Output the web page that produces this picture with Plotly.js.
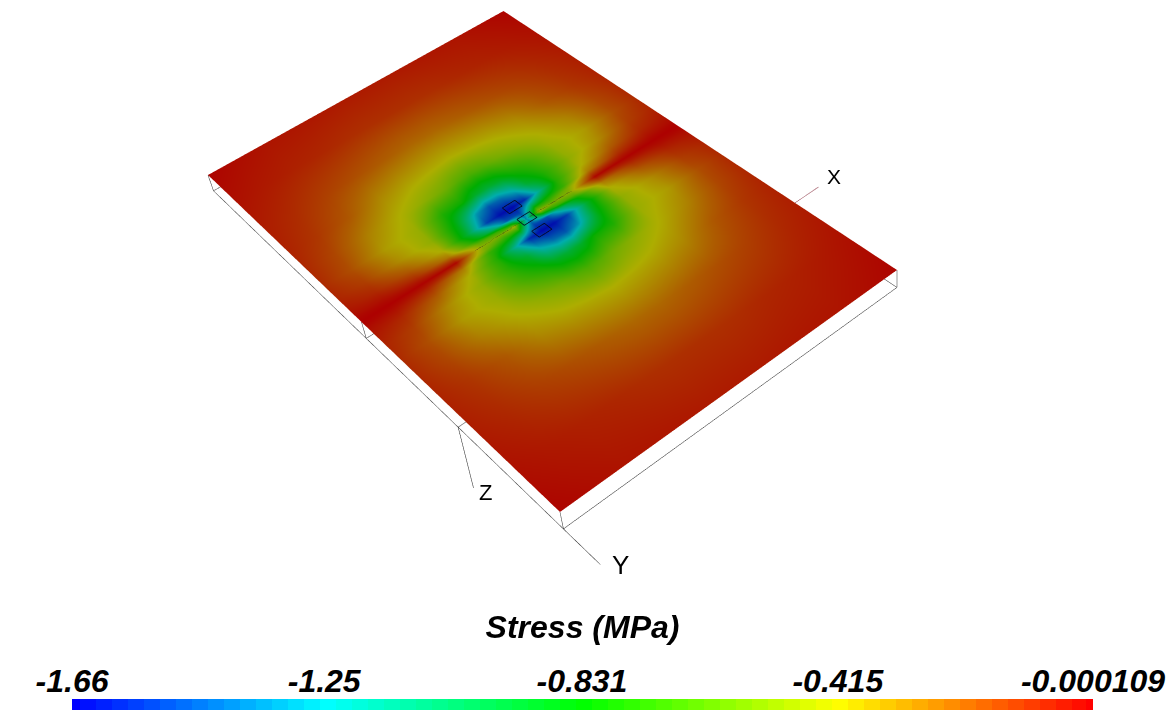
<!DOCTYPE html>
<html>
<head>
<meta charset="utf-8">
<script src="https://cdn.plot.ly/plotly-3.0.1.min.js"></script>
<style>html,body{margin:0;padding:0;background:#fff;overflow:hidden}#chart{width:1176px;height:713px}</style>
</head>
<body>
<div id="chart"></div>
<script>
// Plate position along its two edges (0..1), stress
const sPositions = [0, .08, .18, .28, .36, .42, .46, .5, .54, .58, .64, .72, .82, .92, 1];
const tPositions = [0, .1, .2, .28, .34, .39, .43, .46, .48, .49, .5, .51, .52, .54, .57, .61, .66, .72, .8, .9, 1];
const stress = [
 [-.012,-.04,-.07,-.085,-.10,-.105,-.09,-.06,-.035,-.015,-.005,-.015,-.035,-.06,-.09,-.105,-.10,-.085,-.07,-.04,-.012],
 [-.03,-.06,-.10,-.13,-.17,-.19,-.15,-.10,-.05,-.025,-.005,-.025,-.05,-.10,-.15,-.19,-.17,-.13,-.10,-.06,-.03],
 [-.05,-.08,-.15,-.21,-.31,-.37,-.33,-.22,-.12,-.06,-.01,-.06,-.12,-.22,-.33,-.37,-.31,-.21,-.15,-.08,-.05],
 [-.055,-.095,-.19,-.33,-.42,-.47,-.49,-.43,-.30,-.15,-.02,-.15,-.30,-.43,-.49,-.47,-.42,-.33,-.19,-.095,-.055],
 [-.06,-.11,-.22,-.38,-.50,-.76,-.87,-.95,-.80,-.60,-.50,-.55,-.70,-.75,-.74,-.66,-.50,-.38,-.22,-.11,-.06],
 [-.065,-.115,-.24,-.40,-.56,-.80,-1.3,-1.5,-1.1,-.70,-.55,-.70,-.85,-1.2,-.95,-.78,-.56,-.40,-.24,-.115,-.065],
 [-.065,-.115,-.25,-.41,-.62,-.92,-1.45,-1.62,-1.45,-.90,-.45,-.70,-1.0,-1.55,-1.25,-.90,-.62,-.41,-.25,-.115,-.065],
 [-.065,-.115,-.25,-.42,-.65,-.95,-1.4,-1.64,-1.5,-1.4,-1.3,-1.4,-1.5,-1.64,-1.4,-.95,-.65,-.42,-.25,-.115,-.065],
 [-.065,-.115,-.25,-.41,-.62,-.90,-1.25,-1.55,-1.0,-.70,-.45,-.90,-1.45,-1.62,-1.45,-.92,-.62,-.41,-.25,-.115,-.065],
 [-.065,-.115,-.24,-.40,-.56,-.78,-.95,-1.2,-.85,-.70,-.55,-.70,-1.1,-1.5,-1.3,-.80,-.56,-.40,-.24,-.115,-.065],
 [-.06,-.11,-.22,-.38,-.50,-.66,-.74,-.75,-.70,-.55,-.50,-.60,-.80,-.95,-.87,-.76,-.50,-.38,-.22,-.11,-.06],
 [-.055,-.095,-.19,-.33,-.42,-.47,-.49,-.43,-.30,-.15,-.02,-.15,-.30,-.43,-.49,-.47,-.42,-.33,-.19,-.095,-.055],
 [-.05,-.08,-.15,-.21,-.31,-.37,-.33,-.22,-.12,-.06,-.01,-.06,-.12,-.22,-.33,-.37,-.31,-.21,-.15,-.08,-.05],
 [-.03,-.06,-.10,-.13,-.17,-.19,-.15,-.10,-.05,-.025,-.005,-.025,-.05,-.10,-.15,-.19,-.17,-.13,-.10,-.06,-.03],
 [-.012,-.04,-.07,-.085,-.10,-.105,-.09,-.06,-.035,-.015,-.005,-.015,-.035,-.06,-.09,-.105,-.10,-.085,-.07,-.04,-.012]
];
const barLevels = [-1.66,-1.634,-1.608,-1.582,-1.556,-1.53,-1.504,-1.478,-1.452,-1.426,-1.4,-1.374,-1.348,-1.322,-1.296,-1.27,-1.244,-1.218,-1.192,-1.166,-1.14,-1.114,-1.088,-1.062,-1.036,-1.01,-.984,-.958,-.932,-.906,-.88,-.854,-.828,-.802,-.776,-.75,-.724,-.698,-.672,-.646,-.62,-.594,-.568,-.542,-.516,-.49,-.464,-.438,-.412,-.386,-.36,-.334,-.308,-.282,-.256,-.23,-.204,-.178,-.152,-.126,-.1,-.074,-.048,-.022,-.002];
const tickValues = [-1.66, -1.25, -.831, -.415, -.000109];
const tickLabels = ['-1.66', '-1.25', '-0.831', '-0.415', '-0.000109'];
const stressColors = [[0,'#0000ff'],[.25,'#00ffff'],[.5,'#00ff00'],[.75,'#ffff00'],[1,'#ff0000']];

// Outline pieces in plate coordinates: [s, t, depth]  (depth 0 = top face, 1 = bottom face)
const boxOutline = [
 [[0,0,1],[1,0,1],[1,1,1],[0,1,1],[0,0,1]],
 [[0,0,0],[0,0,1]], [[1,1,0],[1,1,1]], [[0,1,0],[0,1,1]],
 [[0,.5,0],[0,.5,1],[1,.5,1]], [[0,.75,1],[1,.75,1]]
];
const gaugeOutlines = [
 [[.48,.45,-.03],[.52,.45,-.03],[.52,.47,-.03],[.48,.47,-.03],[.48,.45,-.03]],
 [[.48,.49,-.03],[.52,.49,-.03],[.52,.51,-.03],[.48,.51,-.03],[.48,.49,-.03]],
 [[.48,.53,-.03],[.52,.53,-.03],[.52,.55,-.03],[.48,.55,-.03],[.48,.53,-.03]]
];
const crackLine = [[.34,.5,-.03],[.645,.5,-.03]];
const axisX = [[1,.783,0],[1.08,.783,0]];
const axisY = [[0,1,1],[0,1.08,1]];
const axisZ = [[0,.75,1],[0,.75,4.8]];

// Camera calibration: where the plate corners fall in the 1176x713 frame
const W = 1176, H = 713, cx = W/2, cy = H/2, focal = (H/2)/Math.tan(Math.PI/8);
const pixD = [208,175], pixA = [503.5,11], pixB = [897,270], pixC = [560,512];
const pixDlow = [213,191], pixBlow = [897,288], pixClow = [564,528];
const eyeDist = 4, halfRange = 3;

function ray(p){ return [(p[0]-cx)/focal, (p[1]-cy)/focal, 1]; }
function solve3(M, b){
  const a = M.map((r,i)=>r.concat([b[i]]));
  for(let i=0;i<3;i++){
    let p=i; for(let k=i+1;k<3;k++) if(Math.abs(a[k][i])>Math.abs(a[p][i])) p=k;
    [a[i],a[p]]=[a[p],a[i]];
    for(let k=0;k<3;k++) if(k!==i){ const m=a[k][i]/a[i][i]; for(let j=i;j<4;j++) a[k][j]-=m*a[i][j]; }
  }
  return [a[0][3]/a[0][0], a[1][3]/a[1][1], a[2][3]/a[2][2]];
}
const rA=ray(pixA), rB=ray(pixB), rC=ray(pixC), rD=ray(pixD);
// lA*rA - lB*rB + lC*rC = rD  (the plate's opposite corners share a midpoint)
const lam = solve3([0,1,2].map(i=>[rA[i],-rB[i],rC[i]]), rD);
const depthScale = eyeDist/((lam[0]+lam[2])/2);
const mul=(v,k)=>v.map(x=>x*k);
const cA=mul(rA,lam[0]*depthScale), cB=mul(rB,lam[1]*depthScale), cC=mul(rC,lam[2]*depthScale), cD=mul(rD,depthScale);
// thickness vector, least squares on the three visible lower corners
const lowPairs=[[cD,ray(pixDlow)],[cB,ray(pixBlow)],[cC,ray(pixClow)]];
const rows=[],rhs=[];
lowPairs.forEach(([P,r])=>{
  rows.push([1,0,-r[0]]); rhs.push(r[0]*P[2]-P[0]);
  rows.push([0,1,-r[1]]); rhs.push(r[1]*P[2]-P[1]);
});
const ata=[0,1,2].map(i=>[0,1,2].map(j=>rows.reduce((q,r)=>q+r[i]*r[j],0)));
const atb=[0,1,2].map(i=>rows.reduce((q,r,k)=>q+r[i]*rhs[k],0));
const thick=solve3(ata,atb);

function plate(s,t,d){
  const c=[0,1,2].map(i=>cD[i]+s*(cA[i]-cD[i])+t*(cB[i]-cA[i])+d*thick[i]);
  return [c[0], c[2]-eyeDist, -c[1]];
}
function lineTrace(pieces,color,width,dash){
  const x=[],y=[],z=[];
  pieces.forEach(piece=>{
    piece.forEach(p=>{const q=plate(p[0],p[1],p[2]);x.push(q[0]);y.push(q[1]);z.push(q[2]);});
    x.push(null);y.push(null);z.push(null);
  });
  return {type:'scatter3d',mode:'lines',x,y,z,hoverinfo:'skip',showlegend:false,
    connectgaps:false,line:{color,width,dash:dash||'solid'}};
}
const gx=[],gy=[],gz=[];
sPositions.forEach(s=>{
  const a=[],b=[],c=[];
  tPositions.forEach(t=>{const q=plate(s,t,0);a.push(q[0]);b.push(q[1]);c.push(q[2]);});
  gx.push(a);gy.push(b);gz.push(c);
});
const traces=[
 {type:'surface',x:gx,y:gy,z:gz,surfacecolor:stress,cmin:-1.66,cmax:0,colorscale:stressColors,
  showscale:false,hoverinfo:'skip',lighting:{ambient:.68,diffuse:0,specular:0,fresnel:0,roughness:1}},
 lineTrace(boxOutline,'#333',1),
 lineTrace(gaugeOutlines,'#05051e',1.5),
 lineTrace([crackLine],'#222',1,'dot'),
 lineTrace([axisX],'#8a3040',1),
 lineTrace([axisY],'#222',1),
 lineTrace([axisZ],'#222',1),
 {type:'heatmap',x:barLevels,y:[0],z:[barLevels],zmin:-1.66,zmax:0,colorscale:stressColors,
  showscale:false,hoverinfo:'skip',xaxis:'x',yaxis:'y'}
];
const hidden={visible:false,showgrid:false,zeroline:false,showspikes:false,showbackground:false,autorange:false,range:[-halfRange,halfRange]};
const boldItalic={family:'"Liberation Sans",Arial,sans-serif',size:32,color:'#000',weight:'bold',style:'italic'};
const label=(text,px,py,size)=>({text,xref:'paper',yref:'paper',x:px/W,y:1-py/H,xanchor:'center',yanchor:'middle',showarrow:false,
  font:{family:'"Liberation Sans",Arial,sans-serif',size,color:'#000'}});
const layout={
  width:W,height:H,margin:{l:0,r:0,t:0,b:0},paper_bgcolor:'#fff',plot_bgcolor:'#fff',showlegend:false,
  scene:{domain:{x:[0,1],y:[0,1]},aspectmode:'manual',aspectratio:{x:1,y:1,z:1},
    xaxis:hidden,yaxis:hidden,zaxis:hidden,bgcolor:'rgba(0,0,0,0)',dragmode:false,
    camera:{eye:{x:0,y:-eyeDist/(2*halfRange),z:0},center:{x:0,y:0,z:0},up:{x:0,y:0,z:1},projection:{type:'perspective'}}},
  xaxis:{domain:[72/W,1093/W],range:[-1.66,-.000109],side:'top',anchor:'y',showgrid:false,zeroline:false,
    tickmode:'array',tickvals:tickValues,ticktext:tickLabels,ticks:'',tickfont:boldItalic,
    title:{text:'Stress (MPa)',standoff:14,font:boldItalic}},
  yaxis:{domain:[1-710/H,1-699/H],range:[-.5,.5],visible:false,anchor:'x'},
  annotations:[label('X',834,176,21),label('Y',620,565,26),label('Z',485,492,22)]
};
Plotly.newPlot('chart',traces,layout,{displayModeBar:false,responsive:false});
</script>
</body>
</html>
